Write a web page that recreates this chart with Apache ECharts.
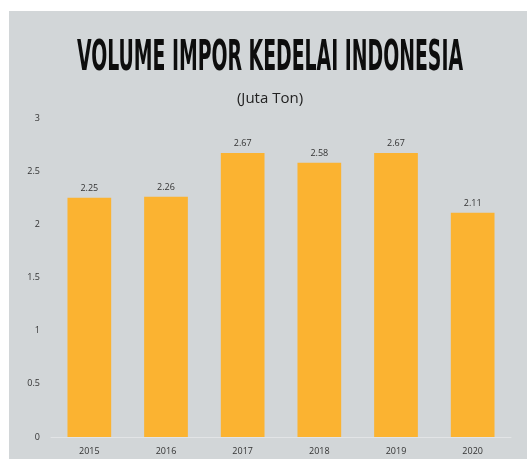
<!DOCTYPE html>
<html>
<head>
<meta charset="utf-8">
<script src="https://cdn.jsdelivr.net/npm/echarts@6/dist/echarts.min.js"></script>
<style>
  html, body { margin: 0; padding: 0; background: #ffffff; }
  #chart { width: 527px; height: 459px; }
</style>
</head>
<body>
<div id="chart"></div>
<script>
// data
var years = ['2015', '2016', '2017', '2018', '2019', '2020'];
var volumes = [2.25, 2.26, 2.67, 2.58, 2.67, 2.11];
var titleText = 'VOLUME IMPOR KEDELAI INDONESIA';
var subText = '(Juta Ton)';

var chart = echarts.init(document.getElementById('chart'));

chart.setOption({
    animation: false,
    backgroundColor: '#ffffff',
    graphic: [
        {
            type: 'rect',
            z: -10,
            shape: { x: 9, y: 11, width: 518, height: 448 },
            style: { fill: '#d2d6d8' }
        },
        {
            // condensed title, squeezed horizontally
            type: 'text',
            x: 270, y: 59,
            scaleX: 0.487,
            style: {
                text: titleText,
                fill: '#0d0d0d',
                font: 'bold 43px "DejaVu Sans Condensed", sans-serif',
                align: 'center',
                verticalAlign: 'middle'
            }
        },
        {
            type: 'text',
            x: 270, y: 99,
            style: {
                text: subText,
                fill: '#222222',
                font: '15px "Open Sans", "Noto Sans", sans-serif',
                align: 'center',
                verticalAlign: 'middle'
            }
        }
    ],
    grid: { left: 51, right: 16, top: 118, bottom: 22 },
    xAxis: {
        type: 'category',
        data: years,
        axisLine: { lineStyle: { color: '#e2e4e6', width: 1 } },
        axisTick: { show: false },
        axisLabel: { color: '#333333', fontSize: 9, margin: 10, fontFamily: 'Open Sans' }
    },
    yAxis: {
        type: 'value',
        min: 0, max: 3, interval: 0.5,
        splitLine: { show: false },
        axisLine: { show: false },
        axisTick: { show: false },
        axisLabel: { color: '#333333', fontSize: 9, margin: 11, fontFamily: 'Open Sans' }
    },
    series: [{
        type: 'bar',
        data: volumes,
        barWidth: '57%',
        itemStyle: { color: '#fbb331' },
        label: {
            show: true,
            position: 'top',
            distance: 5,
            color: '#333333',
            fontSize: 9,
            fontFamily: 'Open Sans'
        }
    }]
});
</script>
</body>
</html>
